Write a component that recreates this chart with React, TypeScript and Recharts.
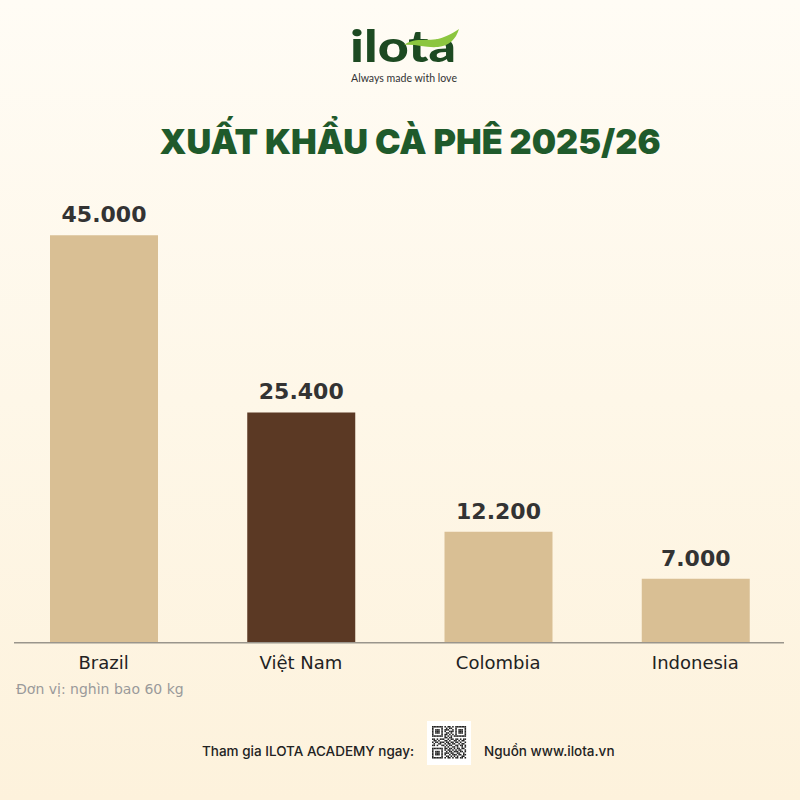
import React from 'react';
import { BarChart, Bar, XAxis, YAxis, Cell, LabelList, ReferenceLine } from 'recharts';

const countries = ['Brazil', 'Việt Nam', 'Colombia', 'Indonesia'];
const exportsK = [45000, 25400, 12200, 7000];
const highlightCountry = 'Việt Nam';
const yDomain = [0, 50000];

const title = 'XUẤT KHẨU CÀ PHÊ 2025/26';
const unitNote = 'Đơn vị: nghìn bao 60 kg';
const footerLeft = 'Tham gia ILOTA ACADEMY ngay:';
const footerRight = 'Nguồn www.ilota.vn';

const qrRows = [
  '1111111010110101111111',
  '1000001001011001000001',
  '1011101011100101011101',
  '1011101010011101011101',
  '1011101001101001011101',
  '1000001011010101000001',
  '1111111010101011111111',
  '0000000011011000000000',
  '1101011100101101101011',
  '0110100011010011010110',
  '1011011101101101101001',
  '0100110010110110010110',
  '1101001101011001101101',
  '0000000010100110100101',
  '1111111011011010110110',
  '1000001010110101011001',
  '1011101001011011101101',
  '1011101011101100110010',
  '1011101010010111011011',
  '1000001001101010100110',
  '1111111010110101101101',
  '0000000000000000000000',
];

const data = countries.map((c, i) => ({ country: c, value: exportsK[i] }));

const fmt = (v: number) => String(v).replace(/\B(?=(\d{3})+(?!\d))/g, '.');

const TAN = '#d9bf94';
const BROWN = '#5b3924';

const renderTick = (props: any) => {
  const { x, y, payload } = props;
  return (
    <text x={x} y={y} dy={19} textAnchor="middle" fontFamily="DejaVu Sans" fontSize={18} fill="#222">
      {payload.value}
    </text>
  );
};

const renderLabel = (props: any) => {
  const { x, y, width, value } = props;
  return (
    <text x={x + width / 2} y={y - 13} textAnchor="middle" fontFamily="DejaVu Sans" fontWeight="bold" fontSize={22} fill="#333">
      {fmt(value)}
    </text>
  );
};

const axisShape = (p: any) => (
  <line x1={p.x1 + 9} x2={p.x2 - 10} y1={p.y1 + 0.7} y2={p.y2 + 0.7} stroke="#9a958c" strokeWidth={1.6} />
);

export default function App() {
  const module = 1.55;
  const qrX = 432;
  const qrY = 726;
  return (
    <div
      style={{
        position: 'absolute',
        left: 0,
        top: 0,
        width: 800,
        height: 800,
        background: 'linear-gradient(180deg, #fffcf5 0%, #fef7e8 50%, #fdf2dc 100%)',
        overflow: 'hidden',
      }}
    >
      <div style={{ position: 'absolute', left: 0, top: 0 }}>
        <BarChart width={800} height={800} data={data} margin={{ top: 190, right: 6, bottom: 128, left: 5 }}>
          <XAxis dataKey="country" height={30} axisLine={false} tickLine={false} tick={renderTick} interval={0} />
          <YAxis hide domain={yDomain} />
          <Bar dataKey="value" barSize={108} isAnimationActive={false}>
            {data.map((d) => (
              <Cell key={d.country} fill={d.country === highlightCountry ? BROWN : TAN} />
            ))}
            <LabelList dataKey="value" content={renderLabel} />
          </Bar>
          <ReferenceLine y={0} shape={axisShape} />
        </BarChart>
      </div>
      <svg width={800} height={800} style={{ position: 'absolute', left: 0, top: 0, pointerEvents: 'none' }}>
        {/* logo */}
        <text x={350} y={62} fontFamily="Lato" fontWeight={900} fontSize={44} fill="#1d4a22" textLength={106} lengthAdjust="spacingAndGlyphs">
          ilota
        </text>
        <path d="M404,45 C416,36 430,43 444,37 C451,34 455,32 459,29 C456,39 449,46 438,47 C426,48 416,44 404,45 Z" fill="#8cc63f" />
        <text x={351} y={82} fontFamily="Lato" fontSize={10.5} fill="#333" textLength={106} lengthAdjust="spacingAndGlyphs">
          Always made with love
        </text>
        {/* title */}
        <text x={410} y={154} textAnchor="middle" fontFamily="Inter" fontWeight={900} fontSize={34.3} fill="#1f5a2b">
          {title}
        </text>
        {/* unit */}
        <text x={16} y={694} fontFamily="DejaVu Sans" fontSize={14} fill="#9a9a9a">
          {unitNote}
        </text>
        {/* footer */}
        <text x={202} y={756} fontFamily="Inter" fontWeight={500} fontSize={13.5} fill="#222">
          {footerLeft}
        </text>
        <text x={484} y={756} fontFamily="Inter" fontWeight={500} fontSize={13.5} fill="#222">
          {footerRight}
        </text>
        <rect x={427} y={721} width={44} height={44} fill="#ffffff" />
        {qrRows.map((row, r) =>
          row.split('').map((ch, c) =>
            ch === '1' ? (
              <rect key={`${r}-${c}`} x={qrX + c * module} y={qrY + r * module} width={module} height={module} fill="#222" />
            ) : null
          )
        )}
      </svg>
    </div>
  );
}
